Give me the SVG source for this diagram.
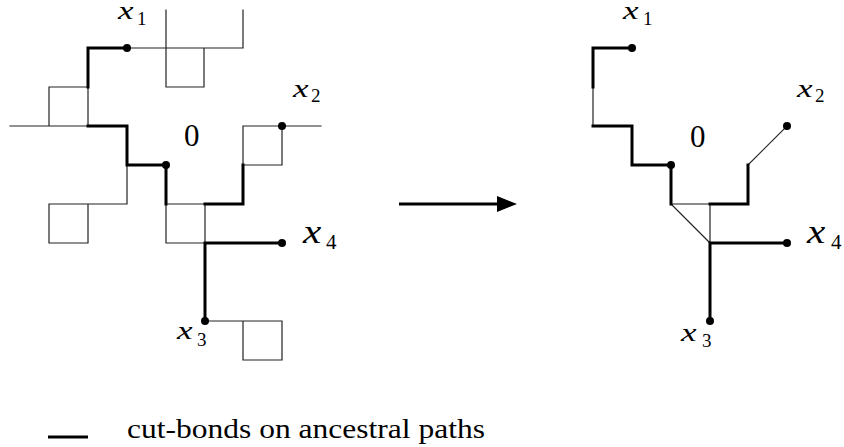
<svg xmlns="http://www.w3.org/2000/svg" width="844" height="447" viewBox="0 0 844 447">
<style>
.thin{fill:none;stroke:#222;stroke-width:1.2;stroke-linecap:square}
.gray{fill:none;stroke:#666;stroke-width:1.3}
.thick{fill:none;stroke:#000;stroke-width:3;stroke-linejoin:miter;stroke-linecap:square}
.dot{fill:#000}
.mi{font-style:italic;font-size:26px}
.mi4{font-style:italic;font-size:33px}
.sub{font-size:19px}
.sub4{font-size:21px}
</style>
<rect width="844" height="447" fill="#fff"/>
<g id="left-lattice">
  <g id="left-thin">
    <path class="thin" d="M127 48H243M166 10V87H204V48M243 10V48"/>
    <path class="thin" d="M10 126H88M49 126V87H88V126"/>
    <path class="thin" d="M127 165V204H88M49 204H88V243H49Z"/>
    <path class="thin" d="M166 204H205V243H166Z"/>
    <path class="thin" d="M243 165V126H321M282 126V165H243"/>
    <path class="thin" d="M205 321H282V360H243V321"/>
  </g>
  <g id="left-thick">
    <path class="thick" d="M127 48H88V87"/>
    <path class="thick" d="M88 126H127V165H166V204"/>
    <path class="thick" d="M205 204H243V165"/>
    <path class="thick" d="M205 243H282M205 243V321"/>
  </g>
  <g font-family="'Liberation Serif','DejaVu Serif',serif" fill="#000">
  <g id="left-x1"><circle class="dot" cx="127" cy="48" r="4"/><text class="mi" transform="translate(118,19) scale(1.35,1)">x</text><text class="sub" x="137" y="25">1</text></g>
  <g id="left-0"><circle class="dot" cx="166" cy="165" r="4"/><text x="184" y="146" font-size="31">0</text></g>
  <g id="left-x2"><circle class="dot" cx="282" cy="126" r="4"/><text class="mi" transform="translate(293,97) scale(1.35,1)">x</text><text class="sub" x="311" y="102">2</text></g>
  <g id="left-x4"><circle class="dot" cx="282" cy="243" r="4"/><text class="mi4" transform="translate(303,243) scale(1.25,1)">x</text><text class="sub4" x="326" y="249">4</text></g>
  <g id="left-x3"><circle class="dot" cx="205" cy="321" r="4"/><text class="mi" transform="translate(177,339) scale(1.35,1)">x</text><text class="sub" x="197" y="346">3</text></g>
  </g>
</g>
<g id="arrow">
  <line x1="399" y1="204" x2="499" y2="204" stroke="#000" stroke-width="2.8"/>
  <polygon points="497,196 517,204 497,212" fill="#000"/>
</g>
<g id="right-lattice" transform="translate(505,0)">
  <g id="right-thin">
    <path class="thin" d="M88 87V126"/>
    <path class="gray" d="M166 204H205"/>
    <path class="thin" d="M166 204L205 243V204"/>
    <path class="thin" d="M243 165L282 126"/>
  </g>
  <g id="right-thick">
    <path class="thick" d="M127 48H88V87"/>
    <path class="thick" d="M88 126H127V165H166V204"/>
    <path class="thick" d="M205 204H243V165"/>
    <path class="thick" d="M205 243H282M205 243V321"/>
  </g>
  <g font-family="'Liberation Serif','DejaVu Serif',serif" fill="#000">
  <g id="right-x1"><circle class="dot" cx="127" cy="48" r="4"/><text class="mi" transform="translate(118,19) scale(1.35,1)">x</text><text class="sub" x="138" y="25">1</text></g>
  <g id="right-0"><circle class="dot" cx="166" cy="165" r="4"/><text x="185" y="147" font-size="31">0</text></g>
  <g id="right-x2"><circle class="dot" cx="282" cy="126" r="4"/><text class="mi" transform="translate(292,97) scale(1.35,1)">x</text><text class="sub" x="310" y="102">2</text></g>
  <g id="right-x4"><circle class="dot" cx="282" cy="243" r="4"/><text class="mi4" transform="translate(302,243) scale(1.25,1)">x</text><text class="sub4" x="326" y="249">4</text></g>
  <g id="right-x3"><circle class="dot" cx="205" cy="321" r="4"/><text class="mi" transform="translate(176,341) scale(1.35,1)">x</text><text class="sub" x="197" y="347">3</text></g>
  </g>
</g>
<g id="legend">
  <line x1="48" y1="437" x2="88" y2="437" stroke="#000" stroke-width="3"/>
  <text x="127" y="438" font-family="'Liberation Serif','DejaVu Serif',serif" font-size="27" textLength="358" lengthAdjust="spacingAndGlyphs">cut-bonds on ancestral paths</text>
</g>
</svg>
